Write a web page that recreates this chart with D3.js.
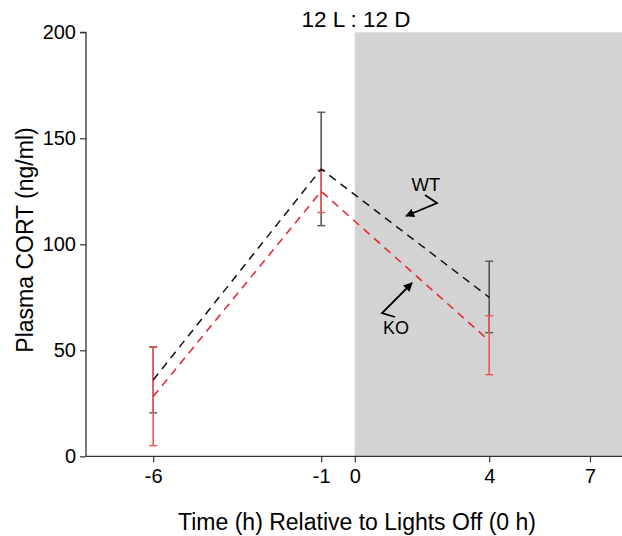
<!DOCTYPE html>
<html><head><meta charset="utf-8">
<script src="https://cdn.jsdelivr.net/npm/d3@7"></script>
<style>body{margin:0;background:#fff;}svg{display:block;font-family:"Liberation Sans",Arial,sans-serif;}</style>
</head><body>
<script>
const times = [-6, -1, 4];
const wtMean = [36, 135.5, 75];
const wtErrUp = [51.5, 162.3, 92];
const wtErrLo = [20.5, 108.8, 58.3];
const koMean = [28.2, 125, 54.5];
const koErrUp = [51.7, 135, 66.3];
const koErrLo = [5, 115, 38.5];
const xTicks = [-6, -1, 0, 4, 7];
const yTicks = [0, 50, 100, 150, 200];

const W = 622, H = 536;
const svg = d3.select("body").append("svg").attr("width", W).attr("height", H);
const x = d3.scaleLinear().domain([-8, 8]).range([86, 623.6]);
const y = d3.scaleLinear().domain([0, 200]).range([456.3, 32.3]);

// dark phase
svg.append("rect").attr("x", x(0)).attr("y", y(200)).attr("width", x(8) - x(0)).attr("height", y(0) - y(200)).attr("fill", "#d3d3d3");

// axes
const ya = svg.append("g").attr("transform", `translate(${x(-8)},0)`)
  .call(d3.axisLeft(y).tickValues(yTicks).tickSize(6).tickPadding(4).tickFormat(d3.format("d")));
const xa = svg.append("g").attr("transform", `translate(0,${y(0)})`)
  .call(d3.axisBottom(x).tickValues(xTicks).tickSize(6).tickPadding(7).tickFormat(d => d));
[ya, xa].forEach(g => {
  g.select(".domain").attr("stroke", "#333").attr("stroke-width", 1.3);
  g.selectAll(".tick line").attr("stroke", "#333").attr("stroke-width", 1.2);
  g.selectAll(".tick text").attr("fill", "#000").attr("font-size", 20).attr("font-family", "Liberation Sans, Arial, sans-serif");
});
ya.select(".domain").attr("d", `M-6,${y(200)}H0V${y(0)}`);
xa.select(".domain").attr("d", `M${x(-8)},0H${x(8)}`);

function errBars(means, ups, los, color, capW) {
  const g = svg.append("g");
  times.forEach((t, i) => {
    g.append("line").attr("x1", x(t)).attr("x2", x(t)).attr("y1", y(ups[i])).attr("y2", y(los[i]))
      .attr("stroke", color).attr("stroke-width", 1.6);
    [ups[i], los[i]].forEach(v => g.append("line").attr("x1", x(t) - capW).attr("x2", x(t) + capW)
      .attr("y1", y(v)).attr("y2", y(v)).attr("stroke", color).attr("stroke-width", 1.4));
  });
}
errBars(wtMean, wtErrUp, wtErrLo, "#555", 4);
errBars(koMean, koErrUp, koErrLo, "#ee5555", 4);

const line = d3.line().x((d, i) => x(times[i])).y(d => y(d));
svg.append("path").datum(wtMean).attr("d", line).attr("fill", "none").attr("stroke", "#111")
  .attr("stroke-width", 1.5).attr("stroke-dasharray", "8,6");
svg.append("path").datum(koMean).attr("d", line).attr("fill", "none").attr("stroke", "#e8202a")
  .attr("stroke-width", 1.5).attr("stroke-dasharray", "8,6");

// title
svg.append("text").attr("x", 356).attr("y", 27).attr("text-anchor", "middle").attr("font-size", 22.5).text("12 L : 12 D");

// axis titles
svg.append("text").attr("transform", `translate(33,240) rotate(-90)`).attr("text-anchor", "middle")
  .attr("font-size", 23).text("Plasma CORT (ng/ml)");
svg.append("text").attr("x", 357).attr("y", 530).attr("text-anchor", "middle").attr("font-size", 23)
  .text("Time (h) Relative to Lights Off (0 h)");

// annotations
const defs = svg.append("defs");
defs.append("marker").attr("id", "ah").attr("viewBox", "0 0 10 10").attr("refX", 9).attr("refY", 5)
  .attr("markerWidth", 9).attr("markerHeight", 9).attr("markerUnits", "userSpaceOnUse").attr("orient", "auto")
  .append("path").attr("d", "M0,0L10,5L0,10Z").attr("fill", "#000");
svg.append("text").attr("x", 426).attr("y", 191).attr("text-anchor", "middle").attr("font-size", 18.5).text("WT");
svg.append("path").attr("d", "M425,195L437,203L406,216").attr("fill", "none").attr("stroke", "#000")
  .attr("stroke-width", 1.8).attr("marker-end", "url(#ah)");
svg.append("text").attr("x", 396).attr("y", 334).attr("text-anchor", "middle").attr("font-size", 18).text("KO");
svg.append("path").attr("d", "M395,317L382,313L412,283").attr("fill", "none").attr("stroke", "#000")
  .attr("stroke-width", 1.8).attr("marker-end", "url(#ah)");
</script>
</body></html>
